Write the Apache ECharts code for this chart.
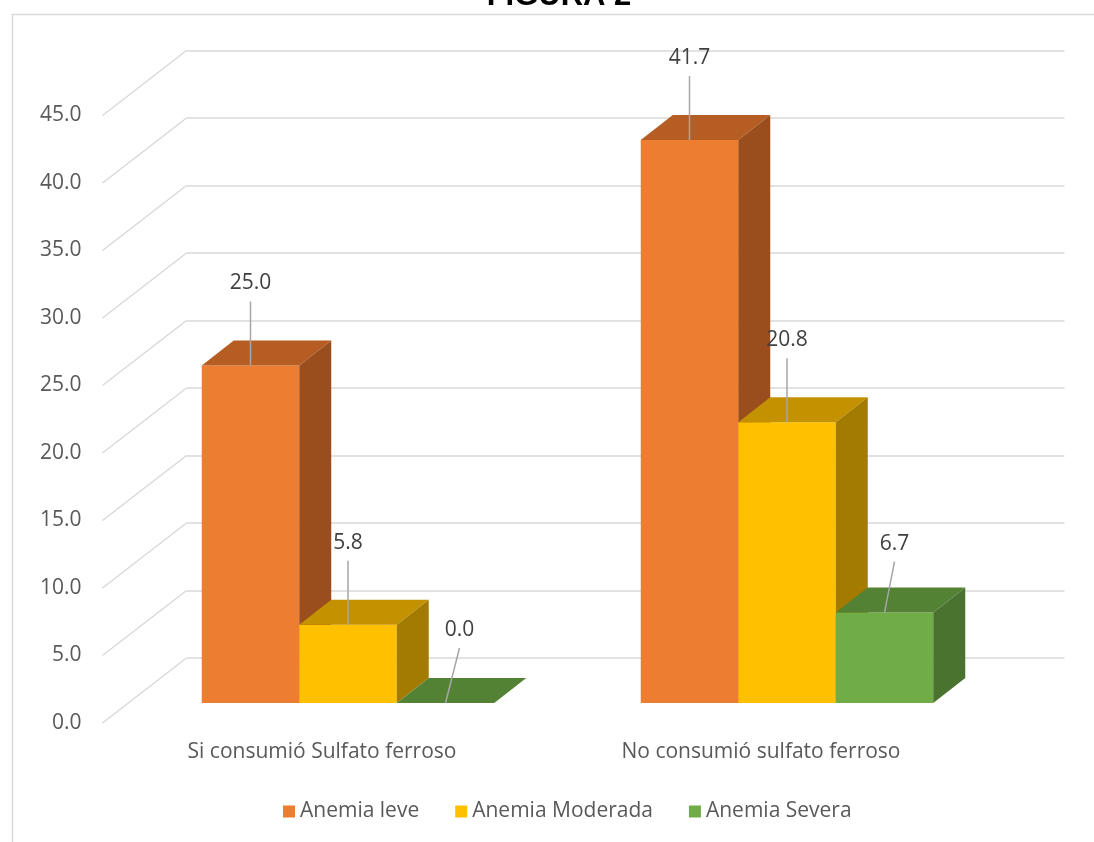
<!DOCTYPE html>
<html><head><meta charset="utf-8">
<script src="https://cdn.jsdelivr.net/npm/echarts@6/dist/echarts.min.js"></script>
<style>html,body{margin:0;padding:0;background:#fff}#c{width:1094px;height:842px}</style>
</head><body><div id="c"></div>
<script>
// ---- data ----
const categories = ['Si consumió Sulfato ferroso', 'No consumió sulfato ferroso'];
const seriesNames = ['Anemia leve', 'Anemia Moderada', 'Anemia Severa'];
const anemiaLeve = [25.0, 41.7];
const anemiaModerada = [5.8, 20.8];
const anemiaSevera = [0.0, 6.7];
const yTicks = [0, 5, 10, 15, 20, 25, 30, 35, 40, 45];
const titleText = 'FIGURA 2';

// ---- style / layout ----
const seriesValues = [anemiaLeve, anemiaModerada, anemiaSevera];
const faceColors = [
  {front: '#ED7D31', top: '#B55D22', side: '#9A4E1D'},
  {front: '#FFC000', top: '#C49200', side: '#A37B00'},
  {front: '#70AD47', top: '#548235', side: '#4A7330'}
];
const FONT = '"Open Sans", "Noto Sans", sans-serif';
const FS = 21;
const depthDx = 32, depthDy = -25;     // bar depth
const planeDx = 26, planeDy = -20;     // front plane -> bar front face
const wallDx = 84, wallDy = -65;       // front plane -> back wall
const barRatio = 0.2221;               // bar width / category band
const labelRise = 82, lineGap = 18;
const labelNudge = {'2-0': [14, 9], '2-1': [10, 13]};

const base = {left: 102.5, top: 115.5, width: 878, height: 607.5};
function gridAt(dx, dy) {
  return {left: base.left + dx, top: base.top + dy, width: base.width, height: base.height, containLabel: false};
}

const yMin = yTicks[0], yMax = yTicks[yTicks.length - 1], yStep = yTicks[1] - yTicks[0];

function makeBarSeries(si) {
  const col = faceColors[si];
  return {
    type: 'custom',
    name: seriesNames[si],
    xAxisIndex: 1, yAxisIndex: 1,
    itemStyle: {color: col.front},
    data: categories.map((c, ci) => [ci, seriesValues[si][ci]]),
    renderItem: function (params, api) {
      const cat = api.value(0), val = api.value(1);
      const band = api.size([1, 0])[0];
      const bw = band * barRatio;
      const pb = api.coord([cat, 0]);
      const pt = api.coord([cat, val]);
      const x0 = pb[0] + (si - 1) * bw - bw / 2, x1 = x0 + bw;
      const yb = pb[1], yt = pt[1];
      const children = [
        {type: 'polygon', shape: {points: [[x0, yb], [x0, yt], [x1, yt], [x1, yb]]}, style: {fill: col.front}},
        {type: 'polygon', shape: {points: [[x0, yt], [x0 + depthDx, yt + depthDy], [x1 + depthDx, yt + depthDy], [x1, yt]]}, style: {fill: col.top}},
        {type: 'polygon', shape: {points: [[x1, yt], [x1 + depthDx, yt + depthDy], [x1 + depthDx, yb + depthDy], [x1, yb]]}, style: {fill: col.side}}
      ];
      const nudge = labelNudge[si + '-' + cat] || [0, 0];
      const cx = (x0 + x1) / 2;
      const lx = cx + nudge[0], ly = yt - labelRise + nudge[1];
      children.push({type: 'line', z2: 100, shape: {x1: cx, y1: yt, x2: lx, y2: ly + lineGap},
        style: {stroke: '#A6A6A6', lineWidth: 1.5}});
      children.push({type: 'text', z2: 101, x: lx, y: ly,
        style: {text: val.toFixed(1), font: FS + 'px ' + FONT, fill: '#404040',
          align: 'center', verticalAlign: 'middle', textAlign: 'center', textVerticalAlign: 'middle'}});
      return {type: 'group', children: children};
    }
  };
}

const option = {
  animation: false,
  color: faceColors.map(c => c.front),
  graphic: [
    {type: 'rect', silent: true, shape: {x: 12.5, y: 14.5, width: 1200, height: 1000},
      style: {fill: 'none', stroke: '#D9D9D9', lineWidth: 1.5}},
    {type: 'text', x: 559, y: -4,
      style: {text: titleText, font: 'bold 31px "Liberation Sans", Arial, sans-serif', fill: '#000',
        align: 'center', verticalAlign: 'middle', textAlign: 'center', textVerticalAlign: 'middle'}}
  ],
  legend: {
    data: seriesNames, left: 278, top: 796, icon: 'rect', itemWidth: 12, itemHeight: 12, itemGap: 36,
    textStyle: {fontFamily: FONT, fontSize: FS, color: '#595959'}
  },
  grid: [gridAt(0, 0), gridAt(planeDx, planeDy), gridAt(wallDx, wallDy)],
  xAxis: [
    {type: 'category', gridIndex: 0, data: categories, axisLine: {show: false}, axisTick: {show: false},
      axisLabel: {margin: 19, fontFamily: FONT, fontSize: FS, color: '#595959'}},
    {type: 'category', gridIndex: 1, data: categories, show: false},
    {type: 'category', gridIndex: 2, data: categories, show: false}
  ],
  yAxis: [
    {type: 'value', gridIndex: 0, min: yMin, max: yMax, interval: yStep,
      axisLine: {show: false}, axisTick: {show: false}, splitLine: {show: false},
      axisLabel: {margin: 21, fontFamily: FONT, fontSize: FS, color: '#595959', formatter: v => v.toFixed(1)}},
    {type: 'value', gridIndex: 1, min: yMin, max: yMax, interval: yStep, show: false},
    {type: 'value', gridIndex: 2, min: yMin, max: yMax, interval: yStep,
      axisLine: {show: false}, axisTick: {show: false}, axisLabel: {show: false},
      splitLine: {show: true, lineStyle: {color: '#D9D9D9', width: 1.5}}}
  ],
  series: [
    {
      type: 'custom', silent: true, xAxisIndex: 0, yAxisIndex: 0, z: 1,
      data: yTicks.map(v => [0, v]),
      renderItem: function (params, api) {
        const y = api.coord([0, api.value(1)])[1];
        const x = params.coordSys.x;
        return {type: 'line', shape: {x1: x, y1: y, x2: x + wallDx, y2: y + wallDy},
          style: {stroke: '#D9D9D9', lineWidth: 1.5}};
      }
    },
    makeBarSeries(0), makeBarSeries(1), makeBarSeries(2)
  ]
};

const chart = echarts.init(document.getElementById('c'), null, {renderer: 'canvas'});
chart.setOption(option);
</script>
</body></html>
